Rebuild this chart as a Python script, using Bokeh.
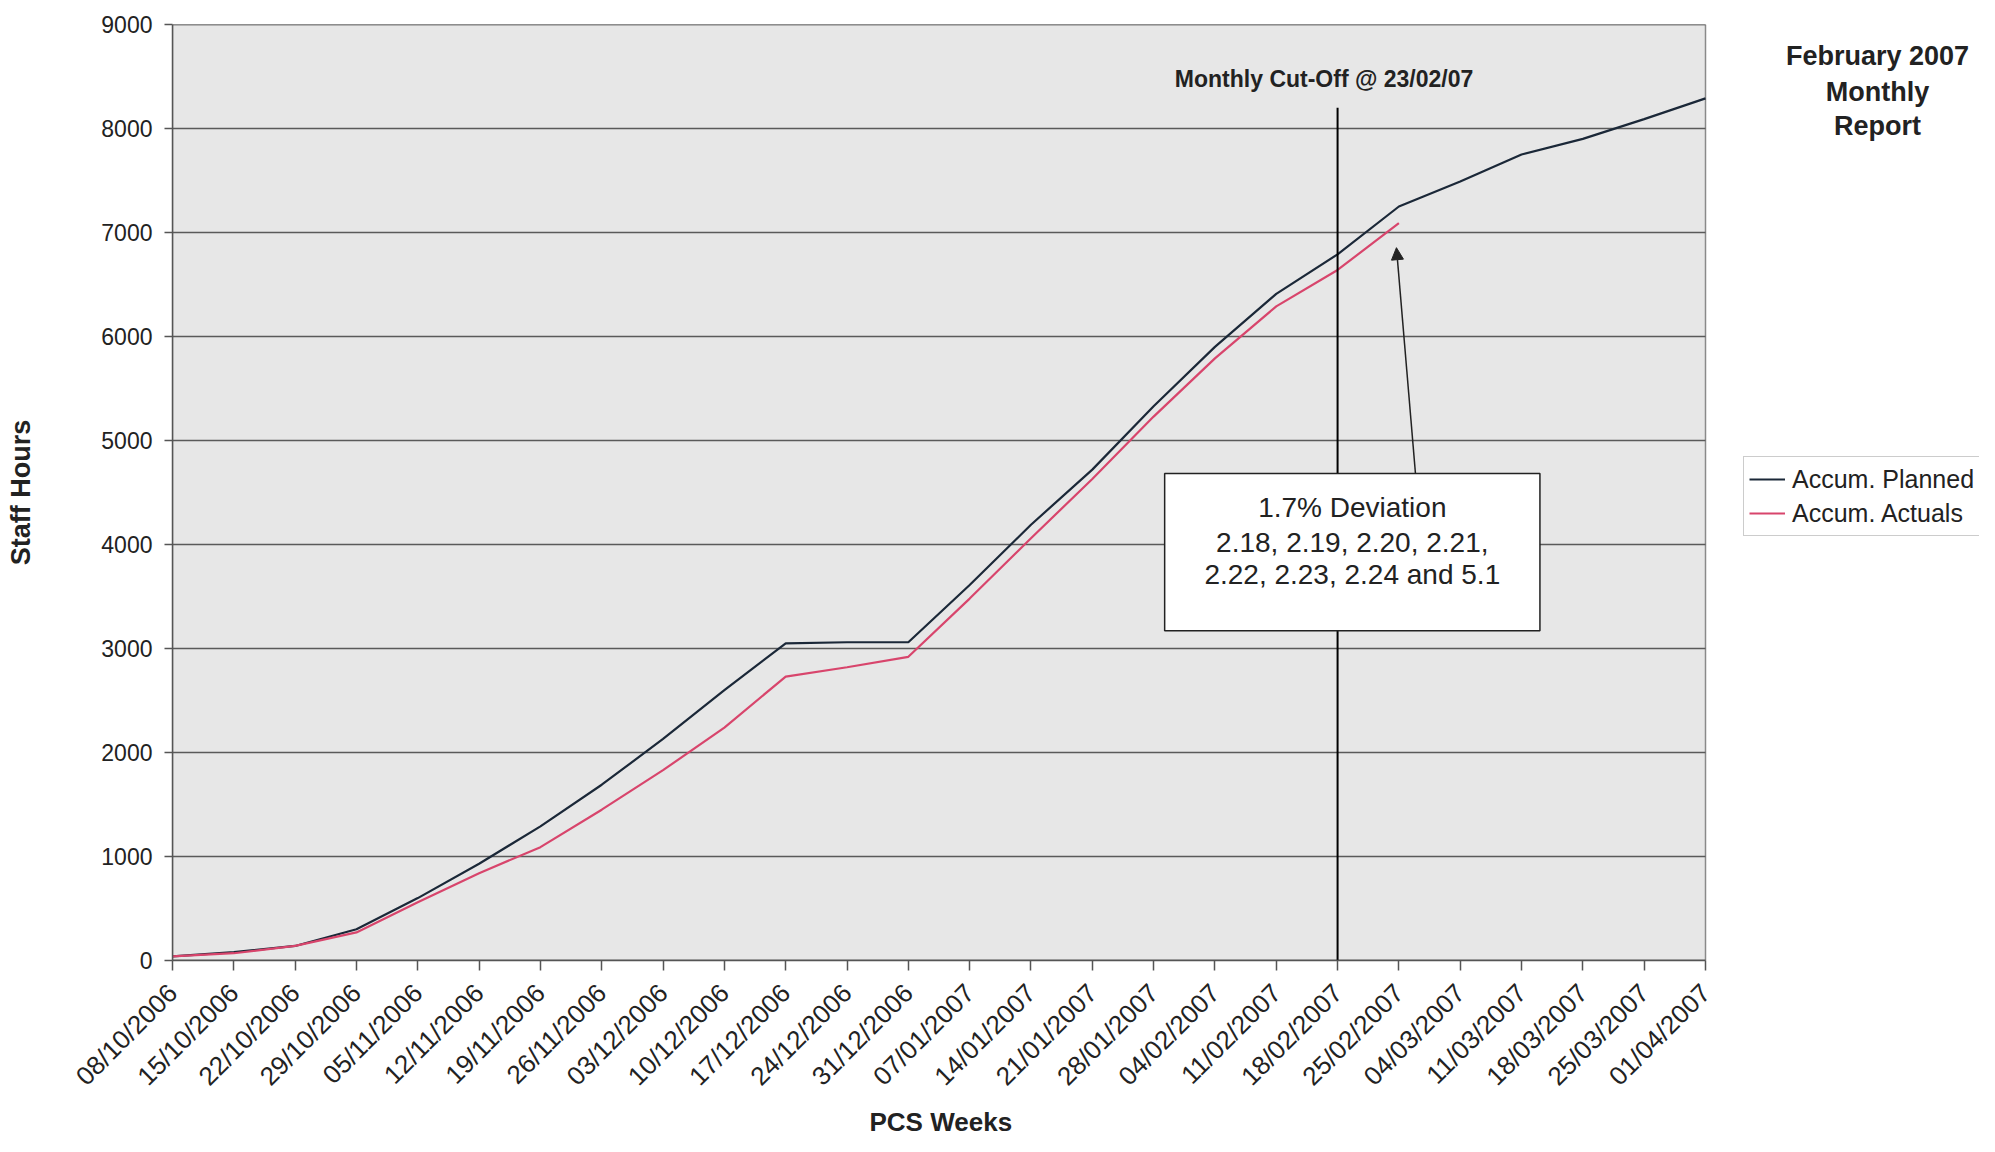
import math
from bokeh.plotting import figure
from bokeh.models import (Range1d, FixedTicker, Label, BoxAnnotation, Arrow,
                          NormalHead, Legend, LegendItem, Title)
from bokeh.embed import file_html
from bokeh.resources import INLINE

weeks = ["08/10/2006", "15/10/2006", "22/10/2006", "29/10/2006", "05/11/2006",
         "12/11/2006", "19/11/2006", "26/11/2006", "03/12/2006", "10/12/2006",
         "17/12/2006", "24/12/2006", "31/12/2006", "07/01/2007", "14/01/2007",
         "21/01/2007", "28/01/2007", "04/02/2007", "11/02/2007", "18/02/2007",
         "25/02/2007", "04/03/2007", "11/03/2007", "18/03/2007", "25/03/2007",
         "01/04/2007"]
planned = [40, 80, 140, 300, 600, 930, 1290, 1690, 2130, 2600, 3050, 3060, 3060,
           3610, 4190, 4720, 5330, 5900, 6410, 6790, 7250, 7490, 7750, 7900,
           8090, 8290]
actuals = [40, 70, 140, 270, 560, 840, 1090, 1450, 1830, 2240, 2730, 2820, 2920,
           3480, 4060, 4630, 5230, 5790, 6290, 6640, 7090]
y_ticks = [0, 1000, 2000, 3000, 4000, 5000, 6000, 7000, 8000, 9000]
y_max = 9000
cutoff_week = 19
cutoff_top = 8200
note_lines = ["1.7% Deviation", "2.18, 2.19, 2.20, 2.21,", "2.22, 2.23, 2.24 and 5.1"]
title_lines = ["February 2007", "Monthly", "Report"]

FONT = "Liberation Sans"
TXT = "#222222"

W, H = 1979, 1136
LEFT, TOP, BOTTOM = 172, 24, 173
PLOT_W = 1533                      # width of the grey plot area in px
n_last = len(weeks) - 1
frame_w = W - LEFT
x_end = n_last * frame_w / PLOT_W  # frame extends beyond plot area (legend/title room)

p = figure(width=W, height=H, output_backend="svg", toolbar_location=None,
           x_range=Range1d(0, x_end), y_range=Range1d(0, y_max),
           min_border_left=LEFT, min_border_right=0, min_border_top=TOP,
           min_border_bottom=BOTTOM)
p.background_fill_color = "white"
p.border_fill_color = "white"
p.outline_line_color = None
p.xgrid.visible = False
p.ygrid.visible = False

# grey plot area with border
p.quad(left=[0], right=[n_last], bottom=[0], top=[y_max],
       fill_color="#e7e7e7", line_color="#8a8a8a", line_width=1.5)
# horizontal gridlines
p.segment(x0=[0] * len(y_ticks), x1=[n_last] * len(y_ticks), y0=y_ticks, y1=y_ticks,
          line_color="#5a5a5a", line_width=1.5)

x = list(range(len(weeks)))
r_plan = p.line(x, planned, line_color="#1b2838", line_width=2.2)
r_act = p.line(x[:len(actuals)], actuals, line_color="#d8456c", line_width=2.2)

# cut-off line
p.segment(x0=[cutoff_week], y0=[0], x1=[cutoff_week], y1=[cutoff_top],
          line_color="black", line_width=2)

# axes
p.xaxis.ticker = FixedTicker(ticks=x)
p.xaxis.bounds = (0, n_last)
p.xaxis.major_label_overrides = {i: w for i, w in enumerate(weeks)}
p.xaxis.major_label_orientation = math.pi / 4
p.yaxis.ticker = FixedTicker(ticks=y_ticks)
for ax in (p.xaxis[0], p.yaxis[0]):
    ax.major_label_text_font = FONT
    ax.major_label_text_color = TXT
    ax.axis_line_color = "#555555"
    ax.axis_line_width = 1.5
    ax.major_tick_line_color = "#555555"
    ax.major_tick_line_width = 1.5
    ax.major_tick_in = 0
    ax.minor_tick_line_color = None
    ax.axis_label_text_font = FONT
    ax.axis_label_text_font_style = "bold"
    ax.axis_label_text_color = TXT
    ax.axis_label_text_font_size = "27px"
p.xaxis.major_label_text_font_size = "26px"
p.xaxis.major_tick_out = 10
p.xaxis.major_label_standoff = 18
p.yaxis.major_label_text_font_size = "23px"
p.yaxis.major_tick_out = 8
p.yaxis.major_label_standoff = 12
p.yaxis.axis_label = "Staff Hours"
p.yaxis.axis_label_standoff = 62

# x-axis title, centred under the grey plot area
p.add_layout(Title(text="PCS Weeks", align="left", offset=697, standoff=0,
                   text_font=FONT, text_font_style="bold", text_font_size="26px",
                   text_color=TXT), "below")

# cut-off label
p.add_layout(Label(x=18.78, y=8476, text="Monthly Cut-Off @ 23/02/07",
                   text_font=FONT, text_font_style="bold", text_font_size="23px",
                   text_align="center", text_baseline="middle", text_color=TXT))

# arrow
p.add_layout(Arrow(x_start=20.27, y_start=4683, x_end=19.96, y_end=6854,
                   line_color=TXT, line_width=1.5,
                   end=NormalHead(size=12, fill_color=TXT, line_color=TXT)))

# note box
p.add_layout(BoxAnnotation(left=16.18, right=22.30, bottom=3171, top=4683,
                           fill_color="white", fill_alpha=1.0,
                           line_color=TXT, line_width=1.5, line_alpha=1.0))
for txt, yy in zip(note_lines, [4354, 4024, 3707]):
    p.add_layout(Label(x=19.24, y=yy, text=txt, text_font=FONT,
                       text_font_size="28px", text_align="center",
                       text_baseline="middle", text_color=TXT))

# report title at right
for txt, sy in zip(title_lines, [905, 869, 835]):
    p.add_layout(Label(x=1705, y=sy, x_units="screen", y_units="screen", text=txt,
                       text_font=FONT, text_font_style="bold", text_font_size="27px",
                       text_align="center", text_baseline="middle", text_color=TXT))

legend = Legend(items=[LegendItem(label="Accum. Planned", renderers=[r_plan]),
                       LegendItem(label="Accum. Actuals", renderers=[r_act])],
                location=(1571, 424))
legend.label_text_font = FONT
legend.label_text_font_size = "25px"
legend.label_text_color = TXT
legend.glyph_width = 36
legend.glyph_height = 34
legend.label_height = 34
legend.label_standoff = 7
legend.spacing = 0
legend.padding = 5
legend.margin = 0
legend.border_line_color = "#9a9a9a"
legend.border_line_width = 1.5
legend.background_fill_color = "white"
legend.background_fill_alpha = 1.0
p.add_layout(legend, "center")

open("out.html", "w").write(file_html(p, INLINE))
